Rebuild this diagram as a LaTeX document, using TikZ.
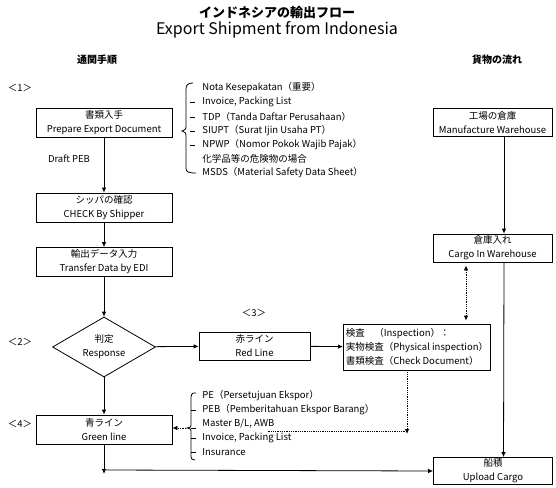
\documentclass[tikz,border=0pt]{standalone}
\usepackage{fontspec}
\setmainfont{Noto Sans CJK JP}
\usetikzlibrary{arrows.meta,positioning,shapes.geometric}

\begin{document}
\begin{tikzpicture}[x=1pt,y=-1pt,line width=0.8pt,font=\fontsize{9.5}{14}\selectfont,
    box/.style={draw,align=center,minimum width=136pt,minimum height=29pt,inner sep=1pt},
    cargobox/.style={box,minimum width=119pt,minimum height=28pt},
    doc/.style={anchor=west,inner sep=0pt},
    arr/.style={-{Latex[length=5pt,width=4.5pt]}},
    dotarr/.style={densely dotted,-{Latex[length=5pt,width=4.5pt]}}]
        \useasboundingbox (0,0) rectangle (556,487);
        % titles
        \node[font=\fontsize{13}{15}\selectfont\bfseries] (title) at (277,13) {インドネシアの輸出フロー};
        \node[font=\fontsize{16}{18}\selectfont] (subtitle) at (277,30) {Export Shipment from Indonesia};
        \node[font=\bfseries] (customs) at (97,60) {通関手順};
        \node[font=\bfseries] (cargo) at (497,60) {貨物の流れ};
        \node (s1) at (20,88) {＜1＞};
        \node (s2) at (20,342) {＜2＞};
        \node (s3) at (254,313) {＜3＞};
        \node (s4) at (20,424) {＜4＞};
        % customs column
        \node[box] (prep) at (104,122.5) {書類入手\\Prepare Export Document};
        \node (draft) at (69,159) {Draft PEB};
        \node[box] (ship) at (104,207.5) {シッパの確認\\CHECK By Shipper};
        \node[box] (edi) at (104,262) {輸出データ入力\\Transfer Data by EDI};
        \node[draw,diamond,aspect=1.7,inner sep=0pt,minimum width=103pt,minimum height=60pt,align=center] (resp) at (104,347) {判定\\Response};
        \node[box,minimum width=111pt,minimum height=28pt] (red) at (254.5,346) {赤ライン\\Red Line};
        \node[draw,align=left,anchor=west,inner xsep=2.5pt,minimum height=46pt] (insp) at (343,347) {検査　（Inspection）：\\実物検査（Physical inspection）\\書類検査（Check Document）};
        \node[box] (green) at (104,429.5) {青ライン\\Green line};
        % cargo column
        \node[cargobox] (mfg) at (492.5,122.5) {工場の倉庫\\Manufacture Warehouse};
        \node[cargobox] (whs) at (492.5,248) {倉庫入れ\\Cargo In Warehouse};
        \node[cargobox,minimum height=27pt] (load) at (493,471) {船積\\Upload Cargo};
        % documents
        \node[doc] (nota) at (202,88) {Nota Kesepakatan（重要）};
        \node[doc] (inv1) at (202,102) {Invoice, Packing List};
        \node[doc] (tdp) at (202,117) {TDP（Tanda Daftar Perusahaan）};
        \node[doc] (siupt) at (202,131) {SIUPT（Surat Ijin Usaha PT）};
        \node[doc] (npwp) at (202,145) {NPWP（Nomor Pokok Wajib Pajak）};
        \node[doc] (chem) at (202,159) {化学品等の危険物の場合};
        \node[doc] (msds) at (202,173) {MSDS（Material Safety Data Sheet）};
        \node[doc] (pe) at (202,396) {PE（Persetujuan Ekspor）};
        \node[doc] (peb) at (202,410) {PEB（Pemberitahuan Ekspor Barang）};
        \node[doc] (mbl) at (202,424) {Master B/L, AWB};
        \node[doc] (inv2) at (202,438) {Invoice, Packing List};
        \node[doc] (ins) at (202,452) {Insurance};
        % braces
        \draw (193,83) .. controls (188,83) and (186,85) .. (186,89) -- (186,127)
          .. controls (186,129) .. (182,131) .. controls (186,133) .. (186,135) -- (186,168)
          .. controls (186,172) and (188,173) .. (196,173);
        \draw (190,102) -- (195,102) (190,117) -- (195,117) (190,131) -- (195,131) (190,145) -- (195,145);
        \draw (196,393) .. controls (192,393) .. (191,397) -- (191,425)
          .. controls (191,427) .. (187,428) .. controls (191,429) .. (191,431) -- (191,456)
          .. controls (191,459) .. (195,460);
        \draw (191,410) -- (196,410) (191,428) -- (196,428) (191,438) -- (196,438) (191,452) -- (196,452);
        % connectors
        \coordinate (btip) at (186,428);
        \coordinate (mblend) at (407,431);
        \coordinate (ul) at (268,431);
        \coordinate (turn) at (green.south |- load.west);
        \draw[arr] (prep) -- (ship);
        \draw[arr] (ship) -- (edi);
        \draw[arr] (edi) -- (resp);
        \draw[arr] (resp) -- (red);
        \draw[arr] (red) -- (insp);
        \draw[arr] (resp) -- (green);
        \draw[arr] (green) -- ([yshift=-3pt]turn);
        \draw[arr] ([xshift=2pt,yshift=1pt]turn) -- (load.west);
        \draw[arr] ([xshift=11.5pt]mfg.south) -- ([xshift=11.5pt]whs.north);
        \draw[arr] ([xshift=11.5pt]whs.south) -- ([xshift=10.5pt]load.north);
        \draw[densely dotted,{Latex[length=5pt,width=4.5pt]}-{Latex[length=5pt,width=4.5pt]},shorten <=3pt,shorten >=3pt] ([xshift=-26.5pt]whs.south) -- ([xshift=-26.5pt]whs.south |- insp.north);
        \draw[dotarr] (insp.south -| mblend) -- ([yshift=-3pt]mblend);
        \draw[densely dotted] (mblend) -- (ul);
        \draw[dotarr] (btip) -- (green.east |- btip);
      \end{tikzpicture}
\end{document}
